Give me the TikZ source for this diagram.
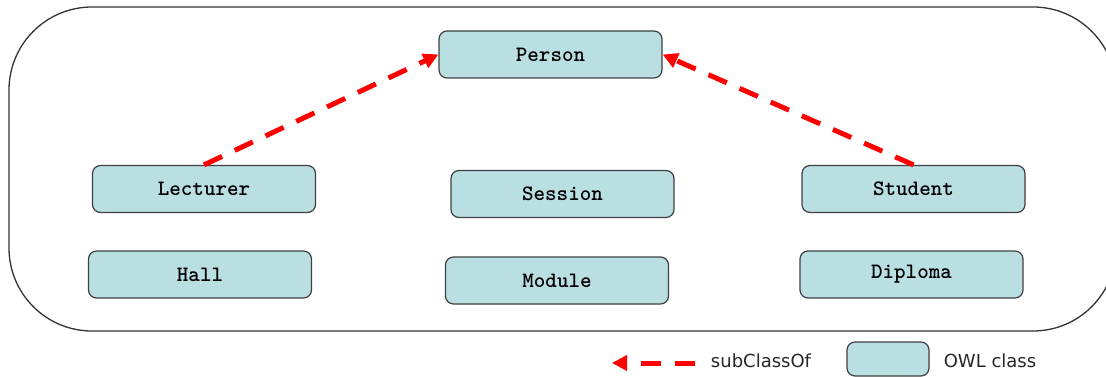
\documentclass[tikz,border=0pt]{standalone}
\usepackage{fontspec}
\usepackage{xcolor}
\usepackage{tikz}
\usetikzlibrary{positioning, arrows.meta}
\setmainfont{DejaVu Sans}
\definecolor{owlblue}{RGB}{185,223,226}
\definecolor{owledge}{RGB}{64,64,64}
\tikzset{
  owlclass/.style={draw=owledge, line width=1.2pt, fill=owlblue, rounded corners=8pt,
    minimum width=223pt, minimum height=47pt, inner sep=0pt,
    font=\ttfamily\bfseries\fontsize{22}{26}\selectfont},
  subclass/.style={red, line width=5pt, dash pattern=on 20pt off 14pt,
    -{Triangle[length=15pt, width=15pt]}},
  legendtext/.style={font=\fontsize{18}{22}\selectfont, text=black!85, inner sep=0pt}
}
\begin{document}
\begin{tikzpicture}[x=1pt, y=-1pt]
    \useasboundingbox (0,0) rectangle (1106,377);
    % Ontology classes
    \draw[line width=1.3pt, draw=black!80, rounded corners=83pt] (9,7) rectangle (1116,331);
    \node[owlclass] (person) at (550.5,54.5) {Person};
    \node[owlclass] (lecturer) at (204,189) {Lecturer};
    \node[owlclass] (hall) at (200,274.5) {Hall};
    \node[owlclass] (session) at (562.5,194) {Session};
    \node[owlclass] (module) at (557,280.5) {Module};
    \node[owlclass] (student) at (913.5,189) {Student};
    \node[owlclass] (diploma) at (911.5,274.5) {Diploma};

    \draw[subclass] (lecturer.north) -- (person.west);
    \draw[subclass] (student.north) -- (person.east);

    % Legend
    \coordinate (legfrom) at (695,363);
    \coordinate (legto) at (612,363);
    \draw[subclass] (legfrom) -- (legto);
    \node[legendtext] (legsub) at (761,361) {subClassOf};
    \node[owlclass, minimum width=82pt, minimum height=34pt] (legbox) at (888,359) {};
    \node[legendtext] (legowl) at (990,361) {OWL class};
  \end{tikzpicture}
\end{document}
